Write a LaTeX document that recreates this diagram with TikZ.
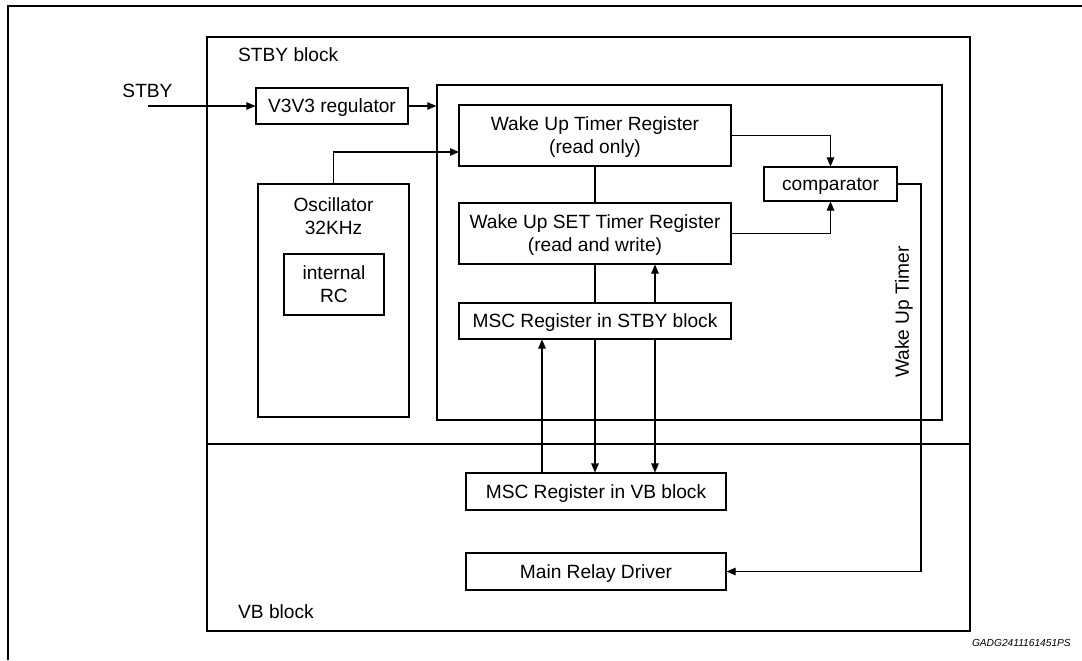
\documentclass[tikz,border=0pt]{standalone}
\usepackage{fontspec}
\setmainfont{Liberation Sans}
\usetikzlibrary{arrows.meta}

\begin{document}
\begin{tikzpicture}[x=0.2mm,y=-0.2mm,
  font=\fontsize{10.9}{13.1}\selectfont,
  bloc/.style={draw,line width=0.6pt,inner sep=0pt,align=center,text depth=0pt},
  fleche/.style={-{Triangle[length=1.8mm,width=1.5mm]},line width=0.6pt},
  trait/.style={line width=0.6pt}]

  \useasboundingbox (0,0) rectangle (1082,660);

  % Cadre extérieur
  \draw[line width=1.2pt] (8,660) -- (8,6) -- (1082,6);

  % Grand bloc : partie STBY en haut, partie VB en bas
  \draw[line width=0.8pt] (207,37) rectangle (970,631);
  \draw[line width=0.8pt] (207,444) -- (970,444); % séparation STBY / VB
  \node[anchor=west] (stbyblk) at (232,55) {STBY block};
  \node[anchor=west] (vbblk) at (232,612) {VB block};

  % Entrée STBY et régulateur
  \node (stby) at (147.5,91) {STBY};
  \coordinate (stbyin) at (148,106);
  \node[bloc,minimum width=30.4mm,minimum height=7.2mm] (reg) at (332,106) {V3V3 regulator};

  % Oscillateur avec RC interne
  \node[bloc,minimum width=30.2mm,minimum height=46.6mm] (osc) at (333.5,300.5) {};
  \node[align=center] (osctxt) at (333.5,216) {Oscillator\\32KHz};
  \node[bloc,minimum width=20mm,minimum height=12.2mm] (rc) at (334,284.5) {internal\\RC};

  % Bloc Wake Up Timer
  \node[draw,line width=0.8pt,inner sep=0pt,minimum width=101mm,minimum height=67mm] (wut) at (689.5,252.5) {};
  \node[bloc,minimum width=54.4mm,minimum height=12.2mm] (wutr) at (595,135.5) {Wake Up Timer Register\\(read only)};
  \node[bloc,minimum width=54.4mm,minimum height=12.2mm] (wustr) at (595,233.5) {Wake Up SET Timer Register\\(read and write)};
  \node[bloc,minimum width=54.4mm,minimum height=7.2mm] (mscs) at (595,321) {MSC Register in STBY block};
  \node[bloc,minimum width=26.6mm,minimum height=6.8mm] (comp) at (830.5,184) {comparator};
  \node[rotate=90] (wuttxt) at (904,312) {Wake Up Timer};

  % Blocs VB
  \node[bloc,minimum width=52mm,minimum height=7.4mm] (mscv) at (596,491.5) {MSC Register in VB block};
  \node[bloc,minimum width=52mm,minimum height=7.4mm] (mrd) at (596,571.5) {Main Relay Driver};

  % Points de passage des liaisons
  \coordinate (oscin) at (459,152);
  \coordinate (up1) at (542,0);
  \coordinate (up2) at (655,0);
  \coordinate (wutline) at (921,184);

  % Liaisons
  \draw[fleche] (stbyin) -- (reg.west);
  \draw[fleche] (reg.east) -- (reg.east -| wut.west);
  \draw[fleche] (osc.north) |- (oscin);
  \draw[trait] (wutr.south) -- (wustr.north);
  \draw[trait] (wustr.south) -- (mscs.north);
  \draw[fleche] (mscs.south) -- (mscs.south |- mscv.north);
  \draw[fleche] (mscv.north -| up1) -- (mscs.south -| up1);
  \draw[fleche] (mscs.north -| up2) -- (wustr.south -| up2);
  \draw[fleche] (mscs.south -| up2) -- (mscv.north -| up2);
  \draw[fleche] (wutr.east) -| (comp.north);
  \draw[fleche] (wustr.east) -| (comp.south);
  \draw[fleche] (comp.east) -- (wutline) |- (mrd.east);

  % Référence
  \node[anchor=east,font=\fontsize{5.8}{7}\selectfont\itshape] (ref) at (1077,643) {GADG2411161451PS};

\end{tikzpicture}
\end{document}
